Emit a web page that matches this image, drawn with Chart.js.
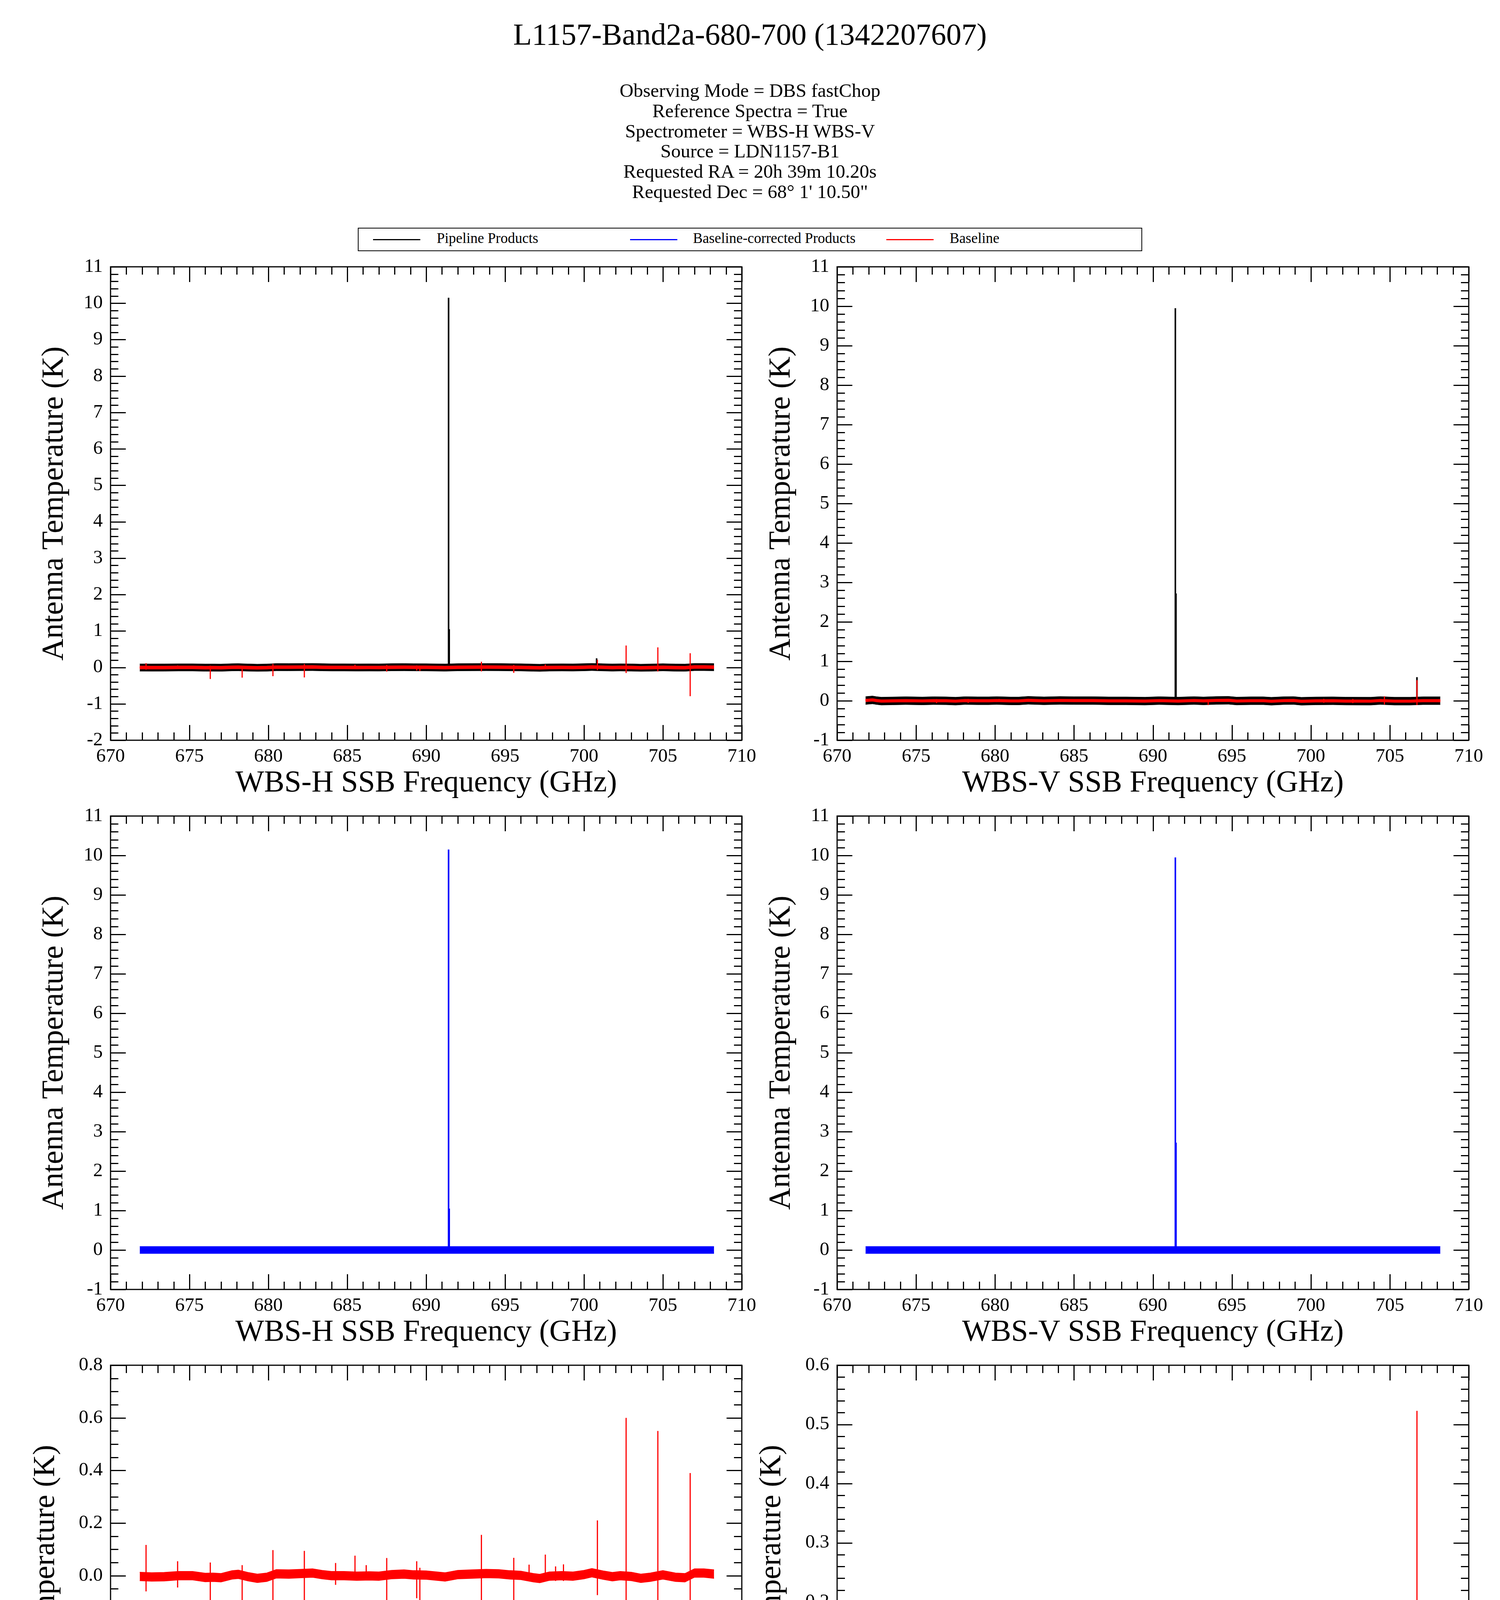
<!DOCTYPE html>
<html>
<head>
<meta charset="utf-8">
<title>L1157-Band2a-680-700 (1342207607)</title>
<script src="https://cdn.jsdelivr.net/npm/chart.js@4.4.1/dist/chart.umd.min.js"></script>
<style>
    body { margin: 0; width: 3840px; height: 4943px; position: relative; overflow: hidden; background: #fff;
           font-family: "Liberation Serif", "Times New Roman", serif; color: #000; }
    .line { position: absolute; left: 0; width: 3840px; text-align: center; white-space: nowrap; }
    #title { top: 49px; font-size: 78px; line-height: 78px; }
    #info { top: 206px; font-size: 49px; line-height: 51.8px; }
    #legend-box { position: absolute; left: 916px; top: 583px; width: 2008px; height: 60px; border: 2px solid #000; box-sizing: border-box; }
    .key { position: absolute; top: 612px; width: 121px; height: 3px; }
    .key-text { position: absolute; top: 591px; font-size: 37px; line-height: 37px; white-space: nowrap; }
    canvas { position: absolute; }
</style>
</head>
<body>
<div id="title" class="line">L1157-Band2a-680-700 (1342207607)</div>
<div id="info" class="line">
    Observing Mode = DBS fastChop<br>
    Reference Spectra = True<br>
    Spectrometer = WBS-H WBS-V<br>
    Source = LDN1157-B1<br>
    Requested RA = 20h 39m 10.20s<br>
    Requested Dec = 68&deg; 1' 10.50"
</div>

<div id="legend-box"></div>
<div class="key" style="left:955px;background:#000"></div>
<div class="key-text" style="left:1118px">Pipeline Products</div>
<div class="key" style="left:1613px;background:#0000ff"></div>
<div class="key-text" style="left:1774px">Baseline-corrected Products</div>
<div class="key" style="left:2269px;background:#ff0000"></div>
<div class="key-text" style="left:2431px">Baseline</div>

<canvas id="p1" width="1960" height="1452" style="left:0px;top:623px"></canvas>
<canvas id="p2" width="1940" height="1452" style="left:1900px;top:623px"></canvas>
<canvas id="p3" width="1960" height="1452" style="left:0px;top:2029px"></canvas>
<canvas id="p4" width="1940" height="1452" style="left:1900px;top:2029px"></canvas>
<canvas id="p5" width="1960" height="1452" style="left:0px;top:3435px"></canvas>
<canvas id="p6" width="1940" height="1452" style="left:1900px;top:3435px"></canvas>

<script>
// Baseline (red), WBS-H: slow ripple (GHz, K)
const baseFreqH = [671.85, 672.6, 673.4, 674.3, 675.2, 676.0, 676.5, 677.0, 677.7, 678.1, 678.7, 679.3, 679.9,
    680.5, 681.3, 682.1, 682.8, 683.4, 684.0, 684.8, 685.6, 686.4, 687.0, 687.8, 688.6, 689.2, 690.0, 691.2,
    692.0, 692.9, 693.8, 694.6, 695.3, 696.0, 696.8, 697.2, 697.8, 698.6, 699.3, 700.0, 700.5, 701.2, 701.8,
    702.3, 703.0, 703.6, 704.2, 705.0, 705.8, 706.4, 707.0, 707.6, 708.24];
const baseValH = [-0.003, -0.005, -0.004, 0.000, 0.000, -0.007, -0.006, -0.008, 0.003, 0.005, -0.004, -0.010, -0.006,
    0.007, 0.006, 0.008, 0.010, 0.004, 0.000, 0.000, -0.002, -0.001, -0.002, 0.004, 0.006, 0.003, 0.002, -0.005,
    0.004, 0.006, 0.008, 0.007, 0.003, 0.001, -0.008, -0.011, -0.002, 0.000, -0.002, 0.004, 0.011, 0.002, -0.004,
    0.000, -0.003, -0.010, -0.006, 0.003, -0.006, -0.008, 0.010, 0.010, 0.006];
const noiseHalfH = 0.016;

// spikes in the WBS-H baseline
const spikeFreqH = [672.25, 674.25, 676.32, 678.34, 680.29, 682.28, 684.26, 685.49, 686.2, 687.5, 689.4, 689.6,
    693.5, 695.55, 696.52, 697.55, 698.2, 698.7, 700.85, 702.67, 704.68, 706.73];
const spikeTopH = [0.117, 0.055, 0.050, 0.040, 0.097, 0.094, 0.048, 0.076, 0.040, 0.067, 0.055, 0.030,
    0.155, 0.068, 0.042, 0.080, 0.035, 0.043, 0.210, 0.600, 0.550, 0.390];
const spikeLowH = [-0.060, -0.045, -0.320, -0.280, -0.240, -0.275, -0.035, -0.010, -0.010, -0.115, -0.086, -0.100,
    -0.110, -0.150, -0.020, -0.010, -0.020, -0.020, -0.074, -0.155, -0.112, -0.790];

// Baseline (red), WBS-V
const baseFreqV = [671.8, 672.24, 672.5, 672.8, 673.5, 674.35, 675.4, 676.1, 676.9, 677.5, 678.1, 678.9, 679.6,
    680.1, 681.0, 681.5, 682.1, 682.4, 683.1, 684.1, 685.0, 686.2, 687.2, 688.3, 689.5, 690.4, 691.6, 692.6,
    693.2, 694.0, 694.8, 695.3, 696.2, 697.0, 697.5, 698.3, 698.9, 699.4, 700.3, 701.4, 702.2, 703.0, 703.8,
    704.4, 705.3, 706.3, 707.1, 708.2];
const baseValV = [0.007, 0.022, 0.005, -0.008, -0.003, 0.003, -0.004, 0.003, 0.000, -0.009, 0.005, 0.000, 0.000,
    0.006, -0.004, -0.004, 0.012, 0.008, -0.001, 0.009, 0.005, 0.005, -0.002, -0.002, -0.008, 0.004, -0.007, 0.006,
    -0.003, 0.009, 0.012, -0.006, 0.001, 0.001, -0.011, 0.004, 0.007, -0.012, -0.003, 0.000, -0.007, -0.008, -0.009,
    0.006, -0.009, -0.009, 0.002, 0.002];
const noiseHalfV = 0.0095;

const spikeFreqV = [676.3, 678.3, 680.26, 682.28, 684.27, 685.45, 687.5, 689.5, 693.5, 695.58, 700.82, 702.66, 704.66, 706.72];
const spikeTopV = [0.041, 0.044, 0.046, 0.045, 0.032, 0.020, 0.017, 0.005, 0.021, 0.034, 0.050, 0.047, 0.115, 0.523];
const spikeLowV = [-0.060, -0.055, -0.018, -0.026, 0.000, 0.000, -0.021, -0.033, -0.108, -0.030, -0.052, -0.060, -0.093, -0.110];

// Pipeline products (black): noise half-width and lines
const pipeHalfH = 0.1;
const pipeHalfV = 0.1;
const pipeSpikeFreqH = [691.42, 691.46, 700.8];
const pipeSpikeTopH = [10.15, 1.05, 0.25];
const pipeSpikeLowH = [-0.08, -0.08, -0.05];
const pipeSpikeFreqV = [691.42, 691.46, 706.72];
const pipeSpikeTopV = [9.95, 2.72, 0.60];
const pipeSpikeLowV = [-0.08, -0.08, -0.10];

// Baseline-corrected products (blue)
const corrFreqH = [671.85, 708.24];
const corrValH = [0, 0];
const corrFreqV = [671.8, 708.2];
const corrValV = [0, 0];
const corrHalf = 0.09;
const corrSpikeFreqH = [691.42, 691.46];
const corrSpikeTopH = [10.15, 1.05];
const corrSpikeLowH = [-0.08, -0.08];
const corrSpikeFreqV = [691.42, 691.46];
const corrSpikeTopV = [9.95, 2.72];
const corrSpikeLowV = [-0.08, -0.08];

const xMin = 670, xMax = 710;

Chart.defaults.font.family = '"Liberation Serif", "Times New Roman", serif';
Chart.defaults.color = '#000';

function isMajor(v, step) {
    const r = v / step;
    return Math.abs(r - Math.round(r)) < 1e-6;
}

// frame round the plot with inward ticks on all four sides
const framePlugin = {
    id: 'frame',
    afterDatasetsDraw(chart, args, opts) {
        const { ctx, chartArea: a, scales: { x, y } } = chart;
        ctx.save();
        ctx.strokeStyle = '#000';
        ctx.lineWidth = 3;
        ctx.beginPath();
        x.ticks.forEach(t => {
            const px = Math.round(x.getPixelForValue(t.value)) + 0.5;
            const len = isMajor(t.value, opts.xMajor) ? 39 : 20;
            ctx.moveTo(px, a.bottom); ctx.lineTo(px, a.bottom - len);
            ctx.moveTo(px, a.top); ctx.lineTo(px, a.top + len);
        });
        y.ticks.forEach(t => {
            const py = Math.round(y.getPixelForValue(t.value)) + 0.5;
            const len = isMajor(t.value, opts.yMajor) ? 39 : 20;
            ctx.moveTo(a.left, py); ctx.lineTo(a.left + len, py);
            ctx.moveTo(a.right, py); ctx.lineTo(a.right - len, py);
        });
        ctx.stroke();
        ctx.strokeRect(a.left, a.top, a.right - a.left, a.bottom - a.top);
        ctx.restore();
    }
};

function band(freq, center, half, color, edge, order) {
    const lo = freq.map((f, i) => ({ x: f, y: center[i] - half }));
    const hi = freq.map((f, i) => ({ x: f, y: center[i] + half }));
    return [
        { data: lo, borderColor: color, borderWidth: edge, pointRadius: 0, fill: false, order: order },
        { data: hi, borderColor: color, borderWidth: edge, pointRadius: 0, fill: '-1', backgroundColor: color, order: order }
    ];
}

function spikes(freq, top, low, color, width, order) {
    const pts = [];
    freq.forEach((f, i) => {
        pts.push({ x: f, y: top[i] }, { x: f, y: low[i] }, { x: f, y: null });
    });
    return { data: pts, borderColor: color, borderWidth: width, pointRadius: 0, fill: false, order: order };
}

function makePanel(id, cfg) {
    const right = cfg.col === 1;
    new Chart(document.getElementById(id), {
        type: 'line',
        data: { datasets: cfg.datasets },
        plugins: [framePlugin],
        options: {
            responsive: false,
            devicePixelRatio: 1,
            animation: false,
            events: [],
            layout: { padding: { left: 0, top: 60, right: right ? 80 : 61, bottom: 0 } },
            plugins: {
                legend: { display: false },
                tooltip: { enabled: false },
                frame: { xMajor: 5, yMajor: cfg.yMajor }
            },
            scales: {
                x: {
                    type: 'linear',
                    min: xMin,
                    max: xMax,
                    afterFit: s => { s.height = 180; },
                    grid: { display: false, drawTicks: false },
                    border: { display: false },
                    ticks: {
                        stepSize: 1,
                        autoSkip: false,
                        maxRotation: 0,
                        padding: cfg.row === 2 ? 16 : 13,
                        font: { size: 49 },
                        callback: v => isMajor(v, 5) ? String(Math.round(v)) : ''
                    },
                    title: {
                        display: true,
                        text: right ? 'WBS-V SSB Frequency (GHz)' : 'WBS-H SSB Frequency (GHz)',
                        font: { size: 78 },
                        padding: { top: 0, bottom: 23 }
                    }
                },
                y: {
                    type: 'linear',
                    min: cfg.yMin,
                    max: cfg.yMax,
                    afterFit: s => { s.width = right ? 243 : 283; },
                    grid: { display: false, drawTicks: false },
                    border: { display: false },
                    ticks: {
                        stepSize: cfg.yStep,
                        autoSkip: false,
                        padding: 20,
                        font: { size: 49 },
                        callback: v => isMajor(v, cfg.yMajor) ? (Math.round(v / cfg.yMajor) * cfg.yMajor).toFixed(cfg.digits) : ''
                    },
                    title: {
                        display: true,
                        text: 'Antenna Temperature (K)',
                        font: { size: 78 },
                        padding: { top: cfg.row === 2 ? (right ? 30 : 71) : (right ? 54 : 93), bottom: 0 }
                    }
                }
            }
        }
    });
}

const RED = '#ff0000', BLACK = '#000000', BLUE = '#0000ff';

// row 1: pipeline products with baseline
makePanel('p1', {
    col: 0, row: 0, yMin: -2, yMax: 11, yStep: 0.2, yMajor: 1, digits: 0,
    datasets: [
        ...band(baseFreqH, baseValH, noiseHalfH, RED, 6, 0),
        spikes(spikeFreqH, spikeTopH, spikeLowH, RED, 3, 0),
        ...band(baseFreqH, baseValH, pipeHalfH, BLACK, 1, 1),
        spikes(pipeSpikeFreqH, pipeSpikeTopH, pipeSpikeLowH, BLACK, 4, 1)
    ]
});
makePanel('p2', {
    col: 1, row: 0, yMin: -1, yMax: 11, yStep: 0.2, yMajor: 1, digits: 0,
    datasets: [
        ...band(baseFreqV, baseValV, noiseHalfV, RED, 6, 0),
        spikes(spikeFreqV, spikeTopV, spikeLowV, RED, 3, 0),
        ...band(baseFreqV, baseValV, pipeHalfV, BLACK, 1, 1),
        spikes(pipeSpikeFreqV, pipeSpikeTopV, pipeSpikeLowV, BLACK, 4, 1)
    ]
});

// row 2: baseline-corrected products
makePanel('p3', {
    col: 0, row: 1, yMin: -1, yMax: 11, yStep: 0.2, yMajor: 1, digits: 0,
    datasets: [
        ...band(corrFreqH, corrValH, corrHalf, BLUE, 1, 0),
        spikes(corrSpikeFreqH, corrSpikeTopH, corrSpikeLowH, BLUE, 4, 0)
    ]
});
makePanel('p4', {
    col: 1, row: 1, yMin: -1, yMax: 11, yStep: 0.2, yMajor: 1, digits: 0,
    datasets: [
        ...band(corrFreqV, corrValV, corrHalf, BLUE, 1, 0),
        spikes(corrSpikeFreqV, corrSpikeTopV, corrSpikeLowV, BLUE, 4, 0)
    ]
});

// row 3: baselines
makePanel('p5', {
    col: 0, row: 2, yMin: -1.0, yMax: 0.8, yStep: 0.05, yMajor: 0.2, digits: 1,
    datasets: [
        ...band(baseFreqH, baseValH, noiseHalfH, RED, 2, 0),
        spikes(spikeFreqH, spikeTopH, spikeLowH, RED, 3, 0)
    ]
});
makePanel('p6', {
    col: 1, row: 2, yMin: -0.2, yMax: 0.6, yStep: 0.02, yMajor: 0.1, digits: 1,
    datasets: [
        ...band(baseFreqV, baseValV, noiseHalfV, RED, 2, 0),
        spikes(spikeFreqV, spikeTopV, spikeLowV, RED, 3, 0)
    ]
});
</script>
</body>
</html>
